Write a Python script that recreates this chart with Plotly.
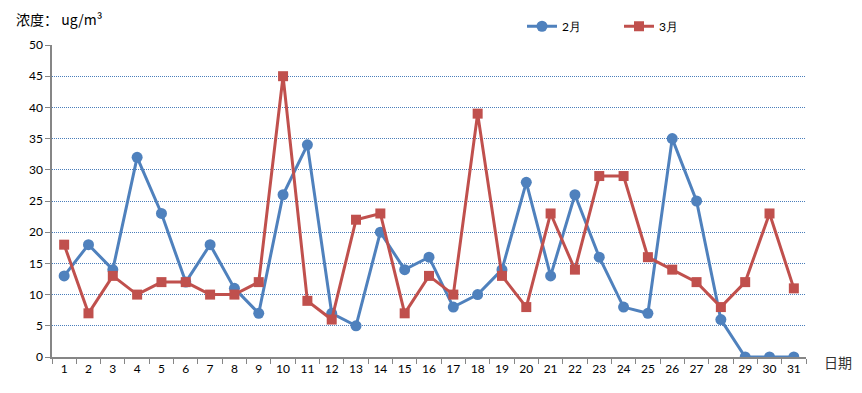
import plotly.graph_objects as go

days = list(range(1, 32))
feb = [13, 18, 14, 32, 23, 12, 18, 11, 7, 26, 34, 7, 5, 20, 14, 16, 8, 10, 14, 28, 13, 26, 16, 8, 7, 35, 25, 6, 0, 0, 0]
mar = [18, 7, 13, 10, 12, 12, 10, 10, 12, 45, 9, 6, 22, 23, 7, 13, 10, 39, 13, 8, 23, 14, 29, 29, 16, 14, 12, 8, 12, 23, 11]
y_ticks = [0, 5, 10, 15, 20, 25, 30, 35, 40, 45, 50]

BLUE = "#4F81BD"
RED = "#C0504D"
FONT = "Lato, 'Liberation Sans', sans-serif"

fig = go.Figure()
fig.add_trace(go.Scatter(x=days, y=feb, name="2月", mode="lines+markers",
                         line=dict(color=BLUE, width=3),
                         marker=dict(symbol="circle", size=11, color=BLUE)))
fig.add_trace(go.Scatter(x=days, y=mar, name="3月", mode="lines+markers",
                         line=dict(color=RED, width=3),
                         marker=dict(symbol="square", size=10, color=RED)))

fig.update_layout(
    width=862, height=393,
    margin=dict(l=52, r=56, t=41, b=36),
    paper_bgcolor="white", plot_bgcolor="white",
    font=dict(family=FONT, size=12, color="#000000"),
    showlegend=True,
    legend=dict(orientation="h", x=(522 - 52) / 754, y=1 + (41 - 22) / 316,
                xanchor="left", yanchor="middle",
                font=dict(size=12), entrywidth=52, entrywidthmode="pixels",
                bgcolor="rgba(0,0,0,0)"),
    xaxis=dict(range=[0.5, 31.5], tickvals=days, ticktext=[str(d) for d in days],
               tickangle=0, ticks="", automargin=False,
               minor=dict(tickvals=[d + 0.5 for d in range(0, 32)], ticks="outside",
                          ticklen=5, tickcolor="#868686", showgrid=False),
               showline=True, linecolor="#868686", linewidth=1.5,
               showgrid=False, zeroline=False, tickfont=dict(size=12)),
    yaxis=dict(range=[0, 50], tickvals=y_ticks, ticks="outside", ticklen=5,
               tickcolor="#868686", showline=True, linecolor="#868686", linewidth=1.5,
               showgrid=True, gridcolor="#4A7EBB", griddash="1px,1px", gridwidth=1,
               zeroline=False, tickfont=dict(size=12), automargin=False),
    annotations=[
        dict(text="浓度： ug/m³", xref="paper", yref="paper", x=-38 / 754, y=1 + 26 / 316,
             xanchor="left", yanchor="middle", showarrow=False,
             font=dict(size=14, family="'Noto Sans CJK SC', sans-serif")),
        dict(text="日期", xref="paper", yref="paper", x=1 + 16 / 754, y=-5 / 316,
             xanchor="left", yanchor="middle", showarrow=False,
             font=dict(size=14, family="'Noto Sans CJK SC', sans-serif", color="#333333")),
    ],
)

fig.write_html("out.html", config={"displayModeBar": False},
               post_script="document.body.style.margin='0';document.body.style.overflow='hidden';")
